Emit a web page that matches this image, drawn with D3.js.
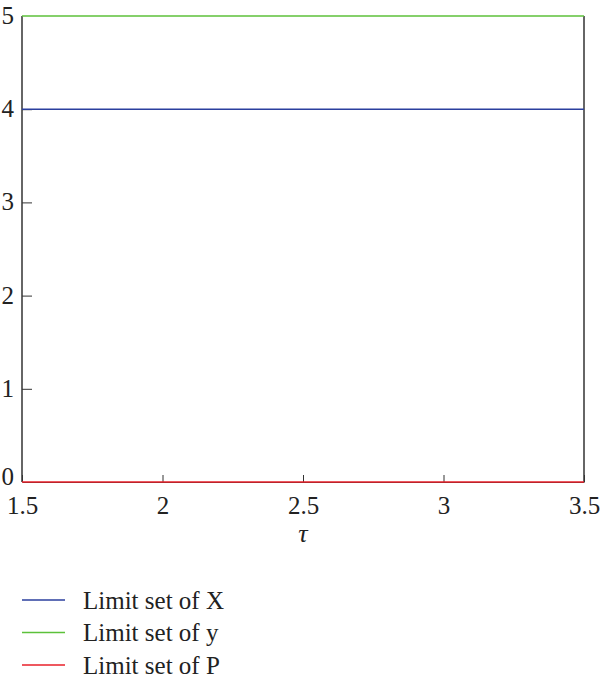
<!DOCTYPE html>
<html>
<head>
<meta charset="utf-8">
<script src="https://cdn.jsdelivr.net/npm/d3@7"></script>
<style>
  body { margin: 0; background: #fff; }
  svg text { font-family: "Liberation Serif", "DejaVu Serif", serif; fill: #222; }
</style>
</head>
<body>
<svg id="chart" width="600" height="683"></svg>
<script>
// limit sets are constant over tau
var tauRange = [1.5, 3.5];
var xTicks = [1.5, 2, 2.5, 3, 3.5];
var yTicks = [0, 1, 2, 3, 4, 5];
var seriesNames = ["Limit set of X", "Limit set of y", "Limit set of P"];
var seriesValues = [4, 5, 0];
var seriesColors = ["#2b3f9e", "#5cc13a", "#e8202a"];

var svg = d3.select("#chart"),
  margin = { top: 16, right: 16, bottom: 201, left: 22 },
  width = +svg.attr("width") - margin.left - margin.right,
  height = +svg.attr("height") - margin.top - margin.bottom;

var x = d3.scaleLinear().domain(tauRange).range([0, width]);
var y = d3.scaleLinear().domain([0, 5]).range([height, 0]);

var g = svg
  .append("g")
  .attr("transform", "translate(" + margin.left + "," + margin.top + ")");

// frame (left + right)
g.append("line")
  .attr("x1", 0).attr("x2", 0)
  .attr("y1", 0).attr("y2", height)
  .attr("stroke", "#333").attr("stroke-width", 1.5);
g.append("line")
  .attr("x1", width).attr("x2", width)
  .attr("y1", 0).attr("y2", height)
  .attr("stroke", "#333").attr("stroke-width", 1.5);

var xAxis = g.append("g")
  .attr("transform", "translate(0," + height + ")")
  .call(d3.axisBottom(x).tickValues(xTicks).tickSizeInner(-7).tickSizeOuter(0)
    .tickFormat(function(d) { return d; }));
xAxis.select(".domain").attr("stroke", "#333");
xAxis.selectAll(".tick line").attr("stroke", "#333");
xAxis.selectAll(".tick text").attr("y", 14).attr("dy", "0.71em")
  .style("font-size", "25px");

var yAxis = g.append("g")
  .call(d3.axisLeft(y).tickValues(yTicks).tickSizeInner(-10).tickSizeOuter(0)
    .tickFormat(d3.format("d")));
yAxis.select(".domain").remove();
yAxis.selectAll(".tick line").attr("stroke", "#333");
yAxis.selectAll(".tick text").attr("x", -8).attr("dy", "0.3em")
  .style("font-size", "25px");
yAxis.selectAll(".tick").filter(function(d) { return d === 0; })
  .select("text").attr("dy", "0.1em");
yAxis.selectAll(".tick").filter(function(d) { return d === 0 || d === 5; })
  .select("line").remove();

svg.selectAll("text").attr("font-family", null);

// series lines
var series = seriesNames.map(function(n, i) {
  return { name: n, value: seriesValues[i], color: seriesColors[i] };
});

var line = d3.line()
  .x(function(d) { return x(d[0]); })
  .y(function(d) { return y(d[1]); });

g.selectAll(".series")
  .data(series)
  .enter()
  .append("path")
  .attr("class", "series")
  .attr("fill", "none")
  .attr("stroke", function(d) { return d.color; })
  .attr("stroke-width", 1.5)
  .attr("d", function(d) {
    return line(tauRange.map(function(t) { return [t, d.value]; }));
  });

// x label
g.append("text")
  .attr("x", x(2.5))
  .attr("y", height + 60)
  .attr("text-anchor", "middle")
  .style("font-size", "26px")
  .style("font-style", "italic")
  .text("τ");

// legend
var legend = svg.append("g").attr("transform", "translate(22,600)");
var item = legend.selectAll(".item")
  .data(series)
  .enter()
  .append("g")
  .attr("class", "item")
  .attr("transform", function(d, i) { return "translate(0," + i * 32.5 + ")"; });
item.append("line")
  .attr("x1", 0).attr("x2", 43)
  .attr("stroke", function(d) { return d.color; })
  .attr("stroke-width", 1.5);
item.append("text")
  .attr("x", 61)
  .attr("dy", "0.35em")
  .style("font-size", "25px")
  .text(function(d) { return d.name; });
</script>
</body>
</html>
